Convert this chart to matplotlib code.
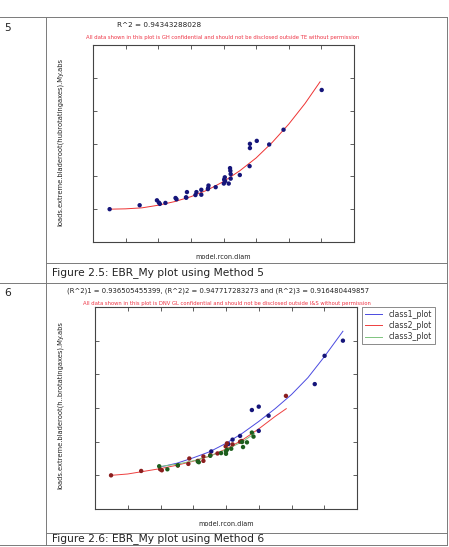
import numpy as np
import matplotlib
matplotlib.use("Agg")
import matplotlib.pyplot as plt
from matplotlib.lines import Line2D

W, H = 449, 547

# ---- data (axis units: ticks at every 1.0) ----
# figure 2.5
m5_x = [0.51, 1.43, 1.96, 2.02, 2.05, 2.22, 2.53, 2.56, 2.85, 2.88, 2.86, 3.14, 3.17,
        3.32, 3.32, 3.52, 3.54, 3.53, 3.76, 4.01, 4.02, 4.04, 4.05, 4.16, 4.20, 4.21,
        4.22, 4.22, 4.50, 4.80, 4.81, 4.81, 5.02, 5.40, 5.84, 7.01]
m5_y = [1.00, 1.12, 1.27, 1.20, 1.16, 1.19, 1.34, 1.30, 1.36, 1.52, 1.35, 1.43, 1.52,
        1.44, 1.59, 1.61, 1.72, 1.64, 1.67, 1.78, 1.90, 1.97, 1.85, 1.78, 2.25, 2.17,
        2.07, 1.93, 2.04, 2.31, 2.99, 2.86, 3.08, 2.97, 3.42, 4.63]
m5_fit_x = [0.53, 1.0, 1.5, 2.0, 2.5, 3.0, 3.5, 4.0, 4.5, 5.0, 5.5, 6.0, 6.5, 6.96]
m5_fit_y = [1.00, 1.01, 1.04, 1.12, 1.23, 1.38, 1.58, 1.84, 2.17, 2.56, 3.04, 3.59, 4.22, 4.88]

# figure 2.6
c1_x = [3.55, 4.07, 4.20, 4.43, 4.79, 5.00, 5.00, 5.30, 6.71, 7.01, 7.57]
c1_y = [1.71, 1.93, 2.06, 2.17, 2.94, 3.04, 2.32, 2.77, 3.71, 4.55, 5.00]
c2_x = [0.49, 1.41, 1.99, 2.04, 2.53, 2.85, 2.88, 3.14, 3.31, 3.31, 3.52, 3.74, 3.99,
        4.03, 4.20, 4.43, 4.48, 5.83]
c2_y = [1.00, 1.13, 1.18, 1.15, 1.29, 1.34, 1.50, 1.43, 1.43, 1.56, 1.60, 1.65, 1.86,
        1.95, 1.92, 2.00, 2.02, 3.36]
c3_x = [1.96, 2.21, 2.53, 3.14, 3.17, 3.52, 3.85, 4.00, 4.00, 4.03, 4.16, 4.49, 4.52,
        4.64, 4.79, 4.84]
c3_y = [1.27, 1.18, 1.30, 1.41, 1.39, 1.58, 1.66, 1.64, 1.71, 1.76, 1.79, 1.99, 1.84,
        1.98, 2.27, 2.15]
c1_fit_x = [1.96, 2.5, 3.0, 3.5, 4.0, 4.5, 5.0, 5.5, 6.0, 6.5, 7.0, 7.57]
c1_fit_y = [1.24, 1.36, 1.52, 1.70, 1.95, 2.25, 2.60, 2.98, 3.40, 3.90, 4.52, 5.28]
c2_fit_x = [0.49, 1.0, 1.5, 2.0, 2.5, 3.0, 3.5, 4.0, 4.5, 5.0, 5.5, 5.84]
c2_fit_y = [1.00, 1.04, 1.12, 1.20, 1.30, 1.42, 1.57, 1.78, 2.05, 2.38, 2.75, 2.98]
c3_fit_x = [1.96, 2.5, 3.0, 3.5, 4.0, 4.5, 4.87]
c3_fit_y = [1.26, 1.33, 1.43, 1.57, 1.76, 2.00, 2.24]

legend_labels = ["class1_plot", "class2_plot", "class3_plot"]


def fx(px):
    return px / W


def fy(py):
    return 1 - py / H


fig = plt.figure(figsize=(W / 100, H / 100), dpi=100)

# ---- table grid of the document ----
grid = "#7a7a7a"
def hline(y, x0, x1):
    fig.add_artist(Line2D([fx(x0), fx(x1)], [fy(y), fy(y)], color=grid, lw=0.7))
def vline(x, y0, y1):
    fig.add_artist(Line2D([fx(x), fx(x)], [fy(y0), fy(y1)], color=grid, lw=0.7))

hline(17, 0, 447)
hline(263, 46, 447)
hline(283, 0, 447)
hline(533, 46, 447)
hline(545, 0, 447)
vline(46, 17, 545)
vline(447, 17, 545)

doc_font = 7.7
fig.text(fx(4), fy(28), "5", fontsize=doc_font, va="center", color="#222222")
fig.text(fx(4), fy(293), "6", fontsize=doc_font, va="center", color="#222222")
fig.text(fx(52), fy(273), "Figure 2.5: EBR_My plot using Method 5", fontsize=doc_font,
         va="center", color="#222222")
fig.text(fx(52), fy(539), "Figure 2.6: EBR_My plot using Method 6", fontsize=doc_font,
         va="center", color="#222222")


def style_axes(ax):
    ax.set_xlim(0, 8)
    ax.set_ylim(0, 6)
    ax.set_xticks(np.arange(1, 8))
    ax.set_yticks(np.arange(1, 6))
    ax.tick_params(direction="in", top=True, right=True, length=3, width=0.6,
                   labelbottom=False, labelleft=False, color="#444444")
    for s in ax.spines.values():
        s.set_linewidth(0.8)
        s.set_color("#444444")


# ---- figure 2.5 ----
ax1 = fig.add_axes([fx(93), fy(242), (354 - 93) / W, (242 - 45) / H])
style_axes(ax1)
ax1.plot(m5_fit_x, m5_fit_y, color="#ee3333", lw=0.7)
ax1.scatter(m5_x, m5_y, s=10, color="#15157a", edgecolors="none", zorder=3)
fig.text(fx(117), fy(25), "R^2 = 0.94343288028", fontsize=5.2, va="center", color="#222222")
fig.text(fx(223), fy(37), "All data shown in this plot is GH confidential and should not be "
         "disclosed outside TE without permission", fontsize=3.75, ha="center",
         va="center", color="#ee3344")
fig.text(fx(223), fy(257), "model.rcon.diam", fontsize=4.7, ha="center", va="center",
         color="#222222")
fig.text(fx(60), fy(142), "loads.extreme.bladeroot(hubrotatingaxes).My.abs", fontsize=4.9,
         rotation=90, ha="center", va="center", color="#222222")

# ---- figure 2.6 ----
ax2 = fig.add_axes([fx(95), fy(509), (357 - 95) / W, (509 - 307) / H])
style_axes(ax2)
l1, = ax2.plot(c1_fit_x, c1_fit_y, color="#4a4ae0", lw=0.7)
l2, = ax2.plot(c2_fit_x, c2_fit_y, color="#ee3f3f", lw=0.7)
l3, = ax2.plot(c3_fit_x, c3_fit_y, color="#7fc47f", lw=0.7)
ax2.scatter(c1_x, c1_y, s=10, color="#15157a", edgecolors="none", zorder=3)
ax2.scatter(c2_x, c2_y, s=10, color="#8a1e1e", edgecolors="none", zorder=3)
ax2.scatter(c3_x, c3_y, s=10, color="#1d5e1d", edgecolors="none", zorder=3)
fig.text(fx(67), fy(291), "(R^2)1 = 0.936505455399, (R^2)2 = 0.947717283273 and "
         "(R^2)3 = 0.916480449857", fontsize=4.95, va="center", color="#222222")
fig.text(fx(227), fy(303), "All data shown in this plot is DNV GL confidential and should "
         "not be disclosed outside I&S without permission", fontsize=3.8, ha="center",
         va="center", color="#ee3344")
fig.text(fx(226), fy(524), "model.rcon.diam", fontsize=4.7, ha="center", va="center",
         color="#222222")
fig.text(fx(60), fy(405), "loads.extreme.bladeroot(h..brotatingaxes).My.abs", fontsize=4.9,
         rotation=90, ha="center", va="center", color="#222222")

leg = fig.legend([l1, l2, l3], legend_labels, loc="upper left",
                 bbox_to_anchor=(fx(362), fy(307)), fontsize=5.6, frameon=True,
                 fancybox=False, handlelength=2.2, handletextpad=0.9, borderpad=0.35,
                 labelspacing=0.3, borderaxespad=0)
leg.get_frame().set_edgecolor("#555555")
leg.get_frame().set_linewidth(0.6)
for t in leg.get_texts():
    t.set_color("#333333")

fig.savefig("out.png", dpi=100)
